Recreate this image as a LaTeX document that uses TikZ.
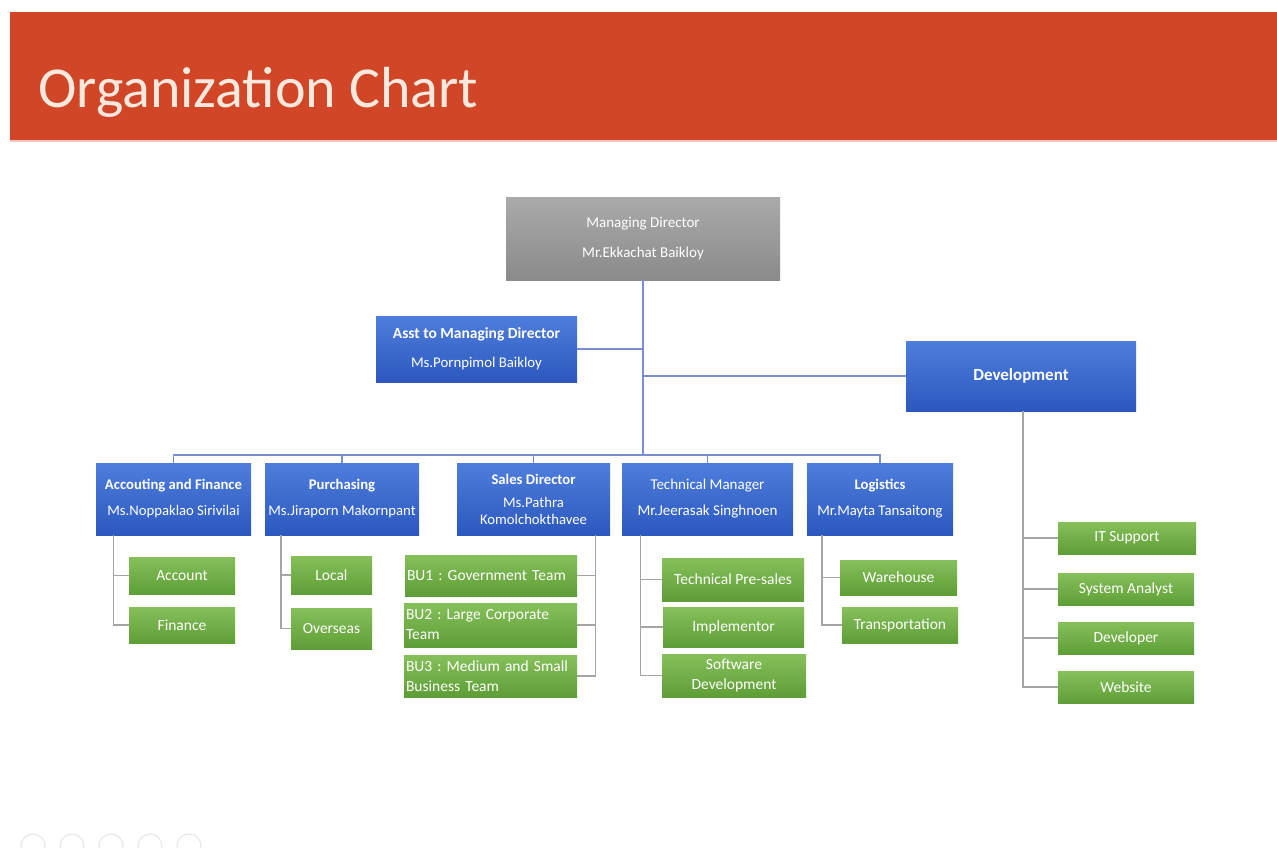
\documentclass[tikz,border=0pt]{standalone}
\usepackage{fontspec}
\setmainfont{Carlito}
\frenchspacing
\definecolor{headred}{RGB}{208,70,38}
\definecolor{titletext}{RGB}{248,232,222}
\definecolor{bluetop}{RGB}{78,126,220}
\definecolor{bluebot}{RGB}{44,88,190}
\definecolor{greentop}{RGB}{134,192,90}
\definecolor{greenbot}{RGB}{94,158,54}
\definecolor{graytop}{RGB}{170,170,170}
\definecolor{graybot}{RGB}{138,138,138}
\definecolor{mainln}{RGB}{122,142,212}
\definecolor{subln}{RGB}{165,165,165}
\begin{document}
\begin{tikzpicture}[x=1pt,y=-1pt,
  wh/.style 2 args={minimum width=#1pt, minimum height=#2pt},
  boxbase/.style={rectangle, inner sep=2pt, align=center, text=white},
  graybox/.style={boxbase, top color=graytop, bottom color=graybot, font=\fontsize{15}{30}\selectfont},
  bluebox/.style={boxbase, top color=bluetop, bottom color=bluebot, font=\fontsize{14.7}{26}\selectfont},
  greenbox/.style={boxbase, top color=greentop, bottom color=greenbot, font=\fontsize{15.5}{20}\selectfont},
  leftgreen/.style={greenbox, align=left, text width=#1pt},
  mainline/.style={draw=mainln, line width=1.4pt},
  subline/.style={draw=subln, line width=1.4pt}
]
\useasboundingbox (0,0) rectangle (1277,848);
\fill[white] (0,0) rectangle (1277,848);
% header
\fill[headred] (10,12) rectangle (1277,140);
\fill[headred!30] (10,140) rectangle (1277,142);
\node[anchor=base west, inner sep=0pt, text=titletext, font=\fontsize{58}{60}\selectfont] (title) at (38,108) {Organization Chart};

% top
\node[graybox, wh={274}{83}] (md) at (643,238.5) {Managing Director\\Mr.Ekkachat Baikloy};
\node[bluebox, wh={201}{66}, font=\fontsize{14.8}{29}\selectfont] (asst) at (476.5,349) {{\fontsize{15.5}{29}\selectfont\bfseries Asst to Managing Director}\\Ms.Pornpimol Baikloy};
\node[bluebox, wh={230}{70}, font=\fontsize{17}{20}\selectfont\bfseries] (dev) at (1021,376) {Development};

% level 2
\node[bluebox, wh={155}{72}] (acc) at (173.5,499) {\textbf{Accouting and Finance}\\Ms.Noppaklao Sirivilai};
\node[bluebox, wh={154}{72}] (pur) at (342,499) {\textbf{Purchasing}\\Ms.Jiraporn Makornpant};
\node[bluebox, wh={153}{72}, font=\fontsize{14.7}{17}\selectfont] (sales) at (533.5,499) {\textbf{Sales Director}\\[6pt]Ms.Pathra\\Komolchokthavee};
\node[bluebox, wh={171}{72}, font=\fontsize{15}{26}\selectfont] (tech) at (707.5,499) {Technical Manager\\Mr.Jeerasak Singhnoen};
\node[bluebox, wh={146}{72}] (logi) at (880,499) {\textbf{Logistics}\\Mr.Mayta Tansaitong};

% level 3
\node[greenbox, wh={106}{37}] (account) at (182,575.5) {Account};
\node[greenbox, wh={106}{36}] (finance) at (182,625) {Finance};
\node[greenbox, wh={81}{38}] (local) at (331.5,575) {Local};
\node[greenbox, wh={81}{41}] (overseas) at (331.5,628.5) {Overseas};
\node[leftgreen=168, wh={172}{41}] (bu1) at (491,575.5) {BU1 : Government Team};
\node[leftgreen=169, wh={173}{44}] (bu2) at (490.5,625) {BU2 : Large Corporate\\Team};
\node[leftgreen=169, wh={173}{42}] (bu3) at (490.5,676) {BU3 : Medium and Small\\Business Team};
\node[greenbox, wh={142}{43}] (presales) at (733,579.5) {Technical Pre-sales};
\node[greenbox, wh={141}{40}] (impl) at (733.5,627) {Implementor};
\node[greenbox, wh={144}{43}] (swdev) at (734,675.5) {Software\\Development};
\node[greenbox, wh={117}{35}] (ware) at (898.5,577.5) {Warehouse};
\node[greenbox, wh={116}{36}] (trans) at (900,625) {Transportation};
\node[greenbox, wh={138}{32}] (its) at (1127,538) {IT Support};
\node[greenbox, wh={136}{32}] (sysa) at (1126,589) {System Analyst};
\node[greenbox, wh={136}{32}] (devr) at (1126,638) {Developer};
\node[greenbox, wh={136}{32}] (web) at (1126,687) {Website};

% main connectors
\coordinate (bus) at (643,455);
\draw[mainline] (md.south) -- (bus);
\draw[mainline] (asst.east) -- (asst.east -| md.south);
\draw[mainline] (dev.west) -- (dev.west -| md.south);
\draw[mainline] (acc.north) -- (acc.north |- bus) -- (logi.north |- bus) -- (logi.north);
\draw[mainline] (pur.north) -- (pur.north |- bus);
\draw[mainline] (sales.north) -- (sales.north |- bus);
\draw[mainline] (tech.north) -- (tech.north |- bus);

% sub connectors
\draw[subline] ([xshift=-60pt]acc.south) |- (account.west);
\draw[subline] ([xshift=-60pt]acc.south) |- (finance.west);
\draw[subline] ([xshift=-61pt]pur.south) |- (local.west);
\draw[subline] ([xshift=-61pt]pur.south) |- (overseas.west);
\draw[subline] ([xshift=62pt]sales.south) |- (bu1.east);
\draw[subline] ([xshift=62pt]sales.south) |- (bu2.east);
\draw[subline] ([xshift=62pt]sales.south) |- (bu3.east);
\draw[subline] ([xshift=-67pt]tech.south) |- (presales.west);
\draw[subline] ([xshift=-67pt]tech.south) |- (impl.west);
\draw[subline] ([xshift=-67pt]tech.south) |- (swdev.west);
\draw[subline] ([xshift=-58pt]logi.south) |- (ware.west);
\draw[subline] ([xshift=-58pt]logi.south) |- (trans.west);
\draw[subline] ([xshift=2pt]dev.south) |- (its.west);
\draw[subline] ([xshift=2pt]dev.south) |- (sysa.west);
\draw[subline] ([xshift=2pt]dev.south) |- (devr.west);
\draw[subline] ([xshift=2pt]dev.south) |- (web.west);

% faint slide controls
\foreach \cx in {33,72,111,150,189}
  \draw[black!10, line width=1pt] (\cx,846) circle (12);
\end{tikzpicture}
\end{document}
